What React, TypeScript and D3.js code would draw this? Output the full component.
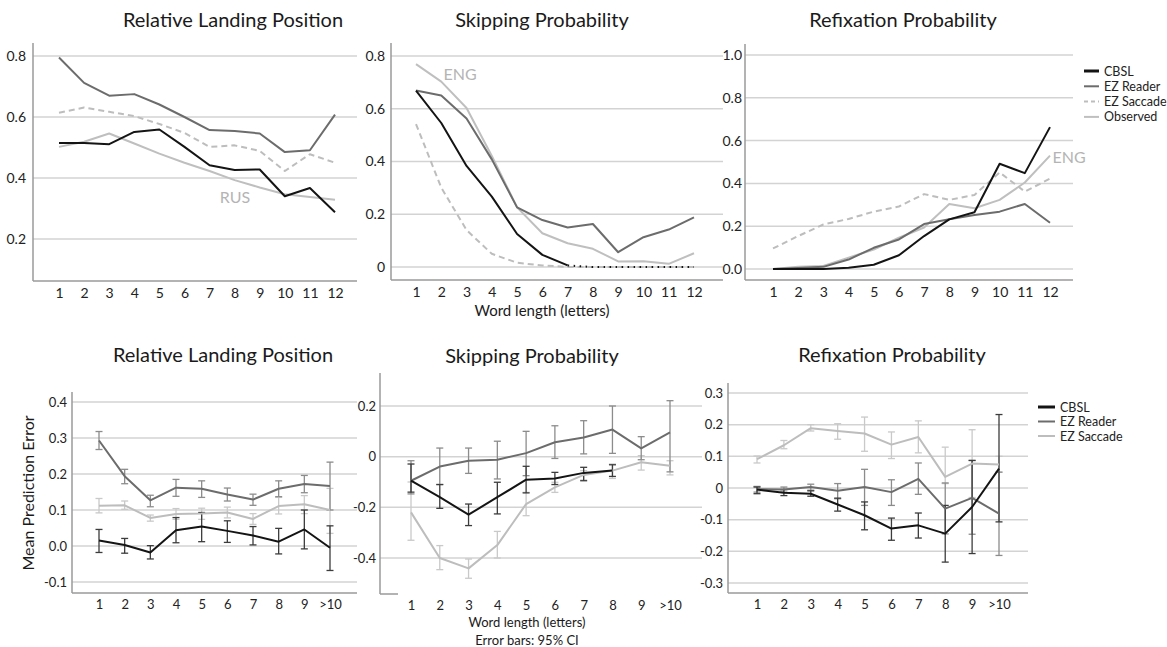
import React, { useEffect, useRef } from 'react';
import * as d3 from 'd3';

// categories
const wordLength = ['1', '2', '3', '4', '5', '6', '7', '8', '9', '10', '11', '12'];
const lengthBins = ['1', '2', '3', '4', '5', '6', '7', '8', '9', '>10'];

// top row: relative landing position
const rlpCbsl = [0.515, 0.515, 0.511, 0.551, 0.559, 0.502, 0.442, 0.426, 0.428, 0.34, 0.367, 0.288];
const rlpEzReader = [0.795, 0.712, 0.67, 0.675, 0.641, 0.6, 0.557, 0.554, 0.546, 0.485, 0.491, 0.608];
const rlpEzSaccade = [0.614, 0.631, 0.617, 0.603, 0.577, 0.548, 0.502, 0.507, 0.489, 0.423, 0.478, 0.45];
const rlpObserved = [0.502, 0.519, 0.546, 0.513, 0.48, 0.45, 0.423, 0.393, 0.369, 0.347, 0.338, 0.329];

// top row: skipping probability
const skipCbsl = [0.669, 0.546, 0.383, 0.267, 0.125, 0.046, 0.006, 0, 0, 0, 0, 0];
const skipEzReader = [0.669, 0.65, 0.563, 0.408, 0.226, 0.178, 0.15, 0.163, 0.056, 0.113, 0.142, 0.188];
const skipEzSaccade = [0.542, 0.301, 0.14, 0.05, 0.016, 0.006, 0, 0, 0, 0, 0, 0];
const skipObserved = [0.769, 0.703, 0.603, 0.421, 0.226, 0.128, 0.09, 0.069, 0.021, 0.022, 0.012, 0.052];

// top row: refixation probability
const refixCbsl = [0, 0, 0, 0.006, 0.02, 0.064, 0.154, 0.232, 0.265, 0.492, 0.448, 0.663];
const refixEzReader = [0, 0.005, 0.01, 0.044, 0.099, 0.138, 0.21, 0.232, 0.252, 0.268, 0.304, 0.216];
const refixEzSaccade = [0.096, 0.154, 0.208, 0.234, 0.268, 0.292, 0.35, 0.323, 0.346, 0.451, 0.362, 0.422];
const refixObserved = [0, 0.01, 0.014, 0.053, 0.091, 0.146, 0.194, 0.304, 0.284, 0.323, 0.404, 0.53];

// bottom row: prediction error, relative landing position
const errRlpCbsl = [0.015, 0.003, -0.018, 0.044, 0.054, 0.042, 0.029, 0.012, 0.046, -0.005];
const errRlpCbslLo = [-0.018, -0.02, -0.036, 0.009, 0.012, 0.01, 0.003, -0.022, -0.008, -0.068];
const errRlpCbslHi = [0.046, 0.021, 0.001, 0.079, 0.093, 0.07, 0.054, 0.049, 0.1, 0.056];
const errRlpEzReader = [0.293, 0.194, 0.127, 0.162, 0.159, 0.143, 0.129, 0.159, 0.172, 0.167];
const errRlpEzReaderLo = [0.268, 0.173, 0.109, 0.138, 0.135, 0.125, 0.113, 0.137, 0.148, 0.1];
const errRlpEzReaderHi = [0.318, 0.213, 0.141, 0.185, 0.181, 0.161, 0.144, 0.181, 0.196, 0.233];
const errRlpEzSaccade = [0.112, 0.113, 0.078, 0.089, 0.09, 0.093, 0.075, 0.111, 0.116, 0.1];
const errRlpEzSaccadeLo = [0.092, 0.102, 0.069, 0.074, 0.074, 0.078, 0.06, 0.089, 0.09, 0.035];
const errRlpEzSaccadeHi = [0.132, 0.125, 0.086, 0.104, 0.105, 0.108, 0.09, 0.135, 0.14, 0.16];

// bottom row: prediction error, skipping probability
const errSkipCbsl = [-0.095, -0.16, -0.229, -0.16, -0.091, -0.086, -0.064, -0.055, null, null];
const errSkipCbslLo = [-0.14, -0.204, -0.272, -0.226, -0.143, -0.11, -0.095, -0.078, null, null];
const errSkipCbslHi = [-0.029, -0.11, -0.187, -0.101, -0.038, -0.062, -0.042, -0.032, null, null];
const errSkipEzReader = [-0.095, -0.039, -0.016, -0.012, 0.014, 0.057, 0.076, 0.107, 0.033, 0.096];
const errSkipEzReaderLo = [-0.147, -0.11, -0.066, -0.088, -0.075, -0.007, 0.011, 0.013, -0.012, -0.06];
const errSkipEzReaderHi = [-0.016, 0.034, 0.034, 0.061, 0.1, 0.122, 0.142, 0.2, 0.079, 0.221];
const errSkipEzSaccade = [-0.22, -0.4, -0.441, -0.349, -0.187, -0.121, -0.072, -0.055, -0.022, -0.036];
const errSkipEzSaccadeLo = [-0.33, -0.446, -0.48, -0.4, -0.233, -0.141, -0.092, -0.086, -0.053, -0.072];
const errSkipEzSaccadeHi = [-0.1, -0.351, -0.404, -0.295, -0.141, -0.101, -0.055, -0.029, 0.004, -0.016];

// bottom row: prediction error, refixation probability
const errRefixCbsl = [-0.005, -0.015, -0.018, -0.052, -0.086, -0.128, -0.118, -0.144, -0.06, 0.061];
const errRefixCbslLo = [-0.018, -0.024, -0.026, -0.073, -0.132, -0.165, -0.158, -0.234, -0.207, -0.107];
const errRefixCbslHi = [0.003, -0.005, -0.009, -0.032, -0.044, -0.095, -0.079, -0.055, 0.087, 0.232];
const errRefixEzReader = [-0.004, -0.005, 0.003, -0.009, 0.003, -0.013, 0.029, -0.065, -0.031, -0.081];
const errRefixEzReaderLo = [-0.013, -0.013, -0.007, -0.034, -0.055, -0.055, -0.02, -0.145, -0.146, -0.213];
const errRefixEzReaderHi = [0.005, 0.003, 0.012, 0.014, 0.059, 0.026, 0.079, 0.016, 0.087, 0.05];
const errRefixEzSaccade = [0.091, 0.135, 0.189, 0.18, 0.172, 0.137, 0.161, 0.035, 0.077, 0.074];
const errRefixEzSaccadeLo = [0.079, 0.124, 0.18, 0.154, 0.116, 0.093, 0.111, 0.014, -0.03, 0.05];
const errRefixEzSaccadeHi = [0.101, 0.15, 0.2, 0.203, 0.224, 0.177, 0.212, 0.129, 0.184, 0.1];

// tick values
const rlpTicks = [0.2, 0.4, 0.6, 0.8];
const skipTicks = [0, 0.2, 0.4, 0.6, 0.8];
const refixTicks = [0, 0.2, 0.4, 0.6, 0.8, 1.0];
const errRlpTicks = [-0.1, 0, 0.1, 0.2, 0.3, 0.4];
const errSkipTicks = [-0.4, -0.2, 0, 0.2];
const errRefixTicks = [-0.3, -0.2, -0.1, 0, 0.1, 0.2, 0.3];

const legendTop = ['CBSL', 'EZ Reader', 'EZ Saccade', 'Observed'];
const legendBottom = ['CBSL', 'EZ Reader', 'EZ Saccade'];

const FONT = 'Lato, "Open Sans", sans-serif';
const GRID = '#d3d3d3';
const AXIS = '#9a9a9a';

const style = {
    CBSL: { stroke: '#141414', width: 2, dash: null, err: '#3c3c3c' },
    'EZ Reader': { stroke: '#6c6c6c', width: 2, dash: null, err: '#8c8c8c' },
    'EZ Saccade': { stroke: '#bdbdbd', width: 2, dash: '6,4', err: '#c9c9c9' },
    Observed: { stroke: '#bfbfbf', width: 2, dash: null, err: '#c9c9c9' },
};

const fmt1 = (v) => v.toFixed(1);
const fmtZero = (v) => (v === 0 ? '0' : v.toFixed(1));

const drawFrame = (svg, cfg) => {
    const y = d3.scaleLinear().domain(cfg.yDomain).range(cfg.yRange);
    const x = d3.scalePoint().domain(cfg.cats).range(cfg.xRange);
    const g = svg.append('g');

    // gridlines
    g.append('g')
        .selectAll('line')
        .data(cfg.ticks)
        .enter()
        .append('line')
        .attr('x1', cfg.left)
        .attr('x2', cfg.gridRight)
        .attr('y1', (d) => y(d))
        .attr('y2', (d) => y(d))
        .attr('stroke', GRID)
        .attr('stroke-width', 1.5);

    // y labels
    g.append('g')
        .attr('transform', `translate(${cfg.left},0)`)
        .call(d3.axisLeft(y).tickValues(cfg.ticks).tickSize(0).tickPadding(cfg.yPad).tickFormat(cfg.fmt))
        .attr('font-family', FONT)
        .attr('font-size', cfg.fs)
        .attr('color', '#222')
        .call((s) => s.select('.domain').remove());

    // x labels
    g.append('g')
        .attr('transform', `translate(0,${cfg.bottom})`)
        .call(d3.axisBottom(x).tickSize(0).tickPadding(cfg.xPad))
        .attr('font-family', FONT)
        .attr('font-size', cfg.fs)
        .attr('color', '#222')
        .call((s) => s.select('.domain').remove());

    // axis lines
    g.append('line')
        .attr('x1', cfg.left).attr('x2', cfg.left)
        .attr('y1', cfg.top).attr('y2', cfg.bottom)
        .attr('stroke', AXIS).attr('stroke-width', 1.5);
    g.append('line')
        .attr('x1', cfg.left).attr('x2', cfg.axisRight)
        .attr('y1', cfg.bottom).attr('y2', cfg.bottom)
        .attr('stroke', AXIS).attr('stroke-width', 1.5);

    return { x, y };
};

const drawSeries = (svg, scales, cats, values, name, from = 0, to = values.length, dash = undefined) => {
    const s = style[name];
    const pts = values.map((v, i) => [cats[i], v]).slice(from, to);
    const line = d3.line()
        .defined((d) => d[1] != null)
        .x((d) => scales.x(d[0]))
        .y((d) => scales.y(d[1]));
    svg.append('path')
        .datum(pts)
        .attr('d', line)
        .attr('fill', 'none')
        .attr('stroke', s.stroke)
        .attr('stroke-width', s.width)
        .attr('stroke-linejoin', 'round')
        .attr('stroke-dasharray', dash !== undefined ? dash : s.dash);
};

const drawErrors = (svg, scales, cats, lo, hi, name) => {
    const s = style[name];
    const g = svg.append('g').attr('stroke', s.err).attr('stroke-width', 1.3);
    const cap = 3.5;
    cats.forEach((c, i) => {
        if (lo[i] == null || hi[i] == null) return;
        const cx = scales.x(c);
        g.append('line').attr('x1', cx).attr('x2', cx).attr('y1', scales.y(lo[i])).attr('y2', scales.y(hi[i]));
        g.append('line').attr('x1', cx - cap).attr('x2', cx + cap).attr('y1', scales.y(lo[i])).attr('y2', scales.y(lo[i]));
        g.append('line').attr('x1', cx - cap).attr('x2', cx + cap).attr('y1', scales.y(hi[i])).attr('y2', scales.y(hi[i]));
    });
};

const drawText = (svg, text, x, y, size, fill = '#1a1a1a', anchor = 'middle') => svg.append('text')
    .attr('x', x)
    .attr('y', y)
    .attr('text-anchor', anchor)
    .attr('font-family', FONT)
    .attr('font-size', size)
    .attr('fill', fill)
    .text(text);

const drawLegend = (svg, names, x, y0, step, len, solid) => {
    names.forEach((n, i) => {
        const s = style[n];
        const yy = y0 + i * step;
        svg.append('line')
            .attr('x1', x).attr('x2', x + len)
            .attr('y1', yy).attr('y2', yy)
            .attr('stroke', s.stroke)
            .attr('stroke-width', n === 'CBSL' ? 3 : 2)
            .attr('stroke-dasharray', solid ? null : (s.dash ? '4,3' : null));
        drawText(svg, n, x + len + 5, yy + 4.5, 12.5, '#222', 'start');
    });
};

const App = () => {
    const ref = useRef(null);

    useEffect(() => {
        document.body.style.margin = '0';
        const svg = d3.select(ref.current);
        svg.selectAll('*').remove();
        svg.append('rect').attr('width', 1167).attr('height', 647).attr('fill', '#fff');

        // ---- top row ----
        const p1 = drawFrame(svg, {
            cats: wordLength, ticks: rlpTicks, fmt: fmt1, yDomain: [0.2, 0.8], yRange: [239, 56],
            xRange: [59, 335], left: 33, top: 43, bottom: 281, gridRight: 357, axisRight: 357,
            yPad: 7, xPad: 7, fs: 14,
        });
        drawSeries(svg, p1, wordLength, rlpObserved, 'Observed');
        drawSeries(svg, p1, wordLength, rlpEzSaccade, 'EZ Saccade');
        drawSeries(svg, p1, wordLength, rlpEzReader, 'EZ Reader');
        drawSeries(svg, p1, wordLength, rlpCbsl, 'CBSL');
        drawText(svg, 'RUS', 235, 203, 16, '#b4b4b4');

        const p2 = drawFrame(svg, {
            cats: wordLength, ticks: skipTicks, fmt: fmtZero, yDomain: [0, 0.8], yRange: [267, 56],
            xRange: [416, 694], left: 391, top: 43, bottom: 280, gridRight: 723, axisRight: 723,
            yPad: 6, xPad: 7, fs: 14,
        });
        drawSeries(svg, p2, wordLength, skipObserved, 'Observed');
        drawSeries(svg, p2, wordLength, skipEzSaccade, 'EZ Saccade');
        drawSeries(svg, p2, wordLength, skipEzReader, 'EZ Reader');
        drawSeries(svg, p2, wordLength, skipCbsl, 'CBSL', 0, 7);
        drawSeries(svg, p2, wordLength, skipCbsl, 'CBSL', 6, 12, '1.5,4.5');
        drawText(svg, 'ENG', 460, 80, 16, '#b4b4b4');

        const p3 = drawFrame(svg, {
            cats: wordLength, ticks: refixTicks, fmt: fmt1, yDomain: [0, 1], yRange: [269, 55],
            xRange: [773, 1050], left: 745, top: 44, bottom: 280, gridRight: 1073, axisRight: 1073,
            yPad: 3, xPad: 7, fs: 14,
        });
        drawSeries(svg, p3, wordLength, refixObserved, 'Observed');
        drawSeries(svg, p3, wordLength, refixEzSaccade, 'EZ Saccade');
        drawSeries(svg, p3, wordLength, refixEzReader, 'EZ Reader');
        drawSeries(svg, p3, wordLength, refixCbsl, 'CBSL');
        drawText(svg, 'ENG', 1069, 163, 16, '#b4b4b4');
        drawLegend(svg, legendTop, 1084, 71, 15.3, 15, false);

        drawText(svg, 'Relative Landing Position', 233, 27, 20);
        drawText(svg, 'Skipping Probability', 542, 27, 20);
        drawText(svg, 'Refixation Probability', 903, 27, 20);
        drawText(svg, 'Word length (letters)', 542, 316, 15);

        // ---- bottom row ----
        const p4 = drawFrame(svg, {
            cats: lengthBins, ticks: errRlpTicks, fmt: fmt1, yDomain: [-0.1, 0.4], yRange: [582, 402],
            xRange: [99, 330], left: 72, top: 392, bottom: 593, gridRight: 357, axisRight: 357,
            yPad: 5, xPad: 7, fs: 13,
        });
        drawErrors(svg, p4, lengthBins, errRlpEzSaccadeLo, errRlpEzSaccadeHi, 'EZ Saccade');
        drawErrors(svg, p4, lengthBins, errRlpEzReaderLo, errRlpEzReaderHi, 'EZ Reader');
        drawErrors(svg, p4, lengthBins, errRlpCbslLo, errRlpCbslHi, 'CBSL');
        drawSeries(svg, p4, lengthBins, errRlpEzSaccade, 'EZ Saccade', 0, 10, null);
        drawSeries(svg, p4, lengthBins, errRlpEzReader, 'EZ Reader');
        drawSeries(svg, p4, lengthBins, errRlpCbsl, 'CBSL');

        const p5 = drawFrame(svg, {
            cats: lengthBins, ticks: errSkipTicks, fmt: fmtZero, yDomain: [-0.4, 0.2], yRange: [558, 406],
            xRange: [411, 670], left: 380, top: 373, bottom: 594, gridRight: 702, axisRight: 398,
            yPad: 4, xPad: 7, fs: 13,
        });
        drawErrors(svg, p5, lengthBins, errSkipEzSaccadeLo, errSkipEzSaccadeHi, 'EZ Saccade');
        drawErrors(svg, p5, lengthBins, errSkipEzReaderLo, errSkipEzReaderHi, 'EZ Reader');
        drawErrors(svg, p5, lengthBins, errSkipCbslLo, errSkipCbslHi, 'CBSL');
        drawSeries(svg, p5, lengthBins, errSkipEzSaccade, 'EZ Saccade', 0, 10, null);
        drawSeries(svg, p5, lengthBins, errSkipEzReader, 'EZ Reader');
        drawSeries(svg, p5, lengthBins, errSkipCbsl, 'CBSL');

        const p6 = drawFrame(svg, {
            cats: lengthBins, ticks: errRefixTicks, fmt: fmtZero, yDomain: [-0.3, 0.3], yRange: [583, 393],
            xRange: [757, 999], left: 728, top: 383, bottom: 593, gridRight: 1028, axisRight: 1028,
            yPad: 5, xPad: 7, fs: 13,
        });
        drawErrors(svg, p6, lengthBins, errRefixEzSaccadeLo, errRefixEzSaccadeHi, 'EZ Saccade');
        drawErrors(svg, p6, lengthBins, errRefixEzReaderLo, errRefixEzReaderHi, 'EZ Reader');
        drawErrors(svg, p6, lengthBins, errRefixCbslLo, errRefixCbslHi, 'CBSL');
        drawSeries(svg, p6, lengthBins, errRefixEzSaccade, 'EZ Saccade', 0, 10, null);
        drawSeries(svg, p6, lengthBins, errRefixEzReader, 'EZ Reader');
        drawSeries(svg, p6, lengthBins, errRefixCbsl, 'CBSL');
        drawLegend(svg, legendBottom, 1038, 407, 14.5, 17, true);

        drawText(svg, 'Relative Landing Position', 223, 362, 20);
        drawText(svg, 'Skipping Probability', 532, 363, 20);
        drawText(svg, 'Refixation Probability', 892, 362, 20);
        drawText(svg, 'Word length (letters)', 527, 627, 13);
        drawText(svg, 'Error bars: 95% CI', 527, 645, 13);
        drawText(svg, 'Mean Prediction Error', 0, 0, 16)
            .attr('transform', 'translate(34,493) rotate(-90)');
    }, []);

    return <svg ref={ref} width={1167} height={647} style={{ display: 'block' }} />;
};

export default App;
